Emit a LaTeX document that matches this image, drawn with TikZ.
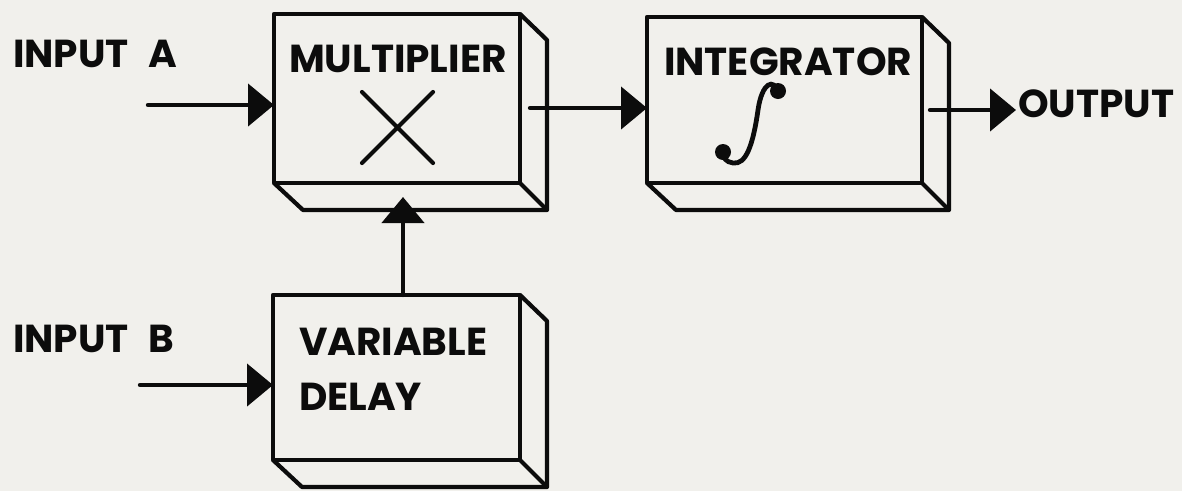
\documentclass[tikz,border=0pt]{standalone}
\usepackage{fontspec}
\setmainfont{Poppins}
\usetikzlibrary{arrows.meta,calc}
\definecolor{paper}{RGB}{241,240,236}
\definecolor{ink}{RGB}{12,12,12}
\begin{document}
\begin{tikzpicture}[x=1pt,y=-1pt,
  line width=4.2pt, draw=ink,
  front/.style={draw=ink, line width=4.2pt, inner sep=0pt, outer sep=0pt, line join=round},
  depth/.style={draw=ink, line width=4.2pt, line join=round},
  lbl/.style={font=\fontsize{39}{41}\selectfont\bfseries, text=ink, inner sep=0pt, anchor=base west},
  arr/.style={draw=ink, line width=4.4pt, line cap=round, -{Triangle[length=26pt,width=42pt]}},
]
\fill[paper] (0,0) rectangle (1182,491);
\useasboundingbox (0,0) rectangle (1182,491);

% boxes (front faces)
\node[front, minimum width=246pt, minimum height=169pt] (mult) at (397,98.5) {};
\node[front, minimum width=275pt, minimum height=166pt] (integ) at (784.5,100) {};
\node[front, minimum width=247pt, minimum height=165pt] (delay) at (396.5,377.5) {};

% depth faces
\foreach \b in {mult,integ,delay}{
  \draw[depth] (\b.north east) -- ++(27,26) |- ($(\b.south west)+(29,27)$) -- (\b.south west);
  \draw[depth] (\b.south east) -- ++(27,27);
}

% labels inside boxes
\node[lbl] (tmult) at (287,72) {MULTIPLIER};
\node[lbl] (tint) at (662,75) {INTEGRATOR};
\node[lbl] (tvar) at (297,355) {VARIABLE};
\node[lbl] (tdel) at (297,410) {DELAY};

% multiplication cross
\draw[line width=4.2pt, line cap=round] (362,92) -- (433,163) (433,92) -- (362,163);

% integral sign
\draw[line width=4.8pt, line cap=round] (778,92) .. controls (774,78) and (762,82) .. (758,110)
  .. controls (753,145) and (746,165) .. (733,163) .. controls (726,162) and (723,158) .. (723,152);
\fill[ink] (778,91) circle (8pt);
\fill[ink] (723,152) circle (8pt);

% external labels
\node[lbl] (inA) at (11,67) {INPUT\enspace A};
\node[lbl] (inB) at (11,352) {INPUT\enspace B};
\node[lbl] (out) at (1016,117) {OUTPUT};

% connectors
\coordinate (a0) at (148,105);
\coordinate (b0) at (140,385);
\coordinate (m0) at (530,108);
\coordinate (o0) at (930,110);
\coordinate (d0) at (403,295);
\coordinate (d1) at (403,197);
\draw[arr] (a0) -- (a0 -| mult.west);
\draw[arr] (b0) -- (b0 -| delay.west);
\draw[arr] (m0) -- (m0 -| integ.west);
\draw[arr] (o0) -- (o0 -| out.west);
\draw[arr] (d0) -- (d1);
\end{tikzpicture}
\end{document}
